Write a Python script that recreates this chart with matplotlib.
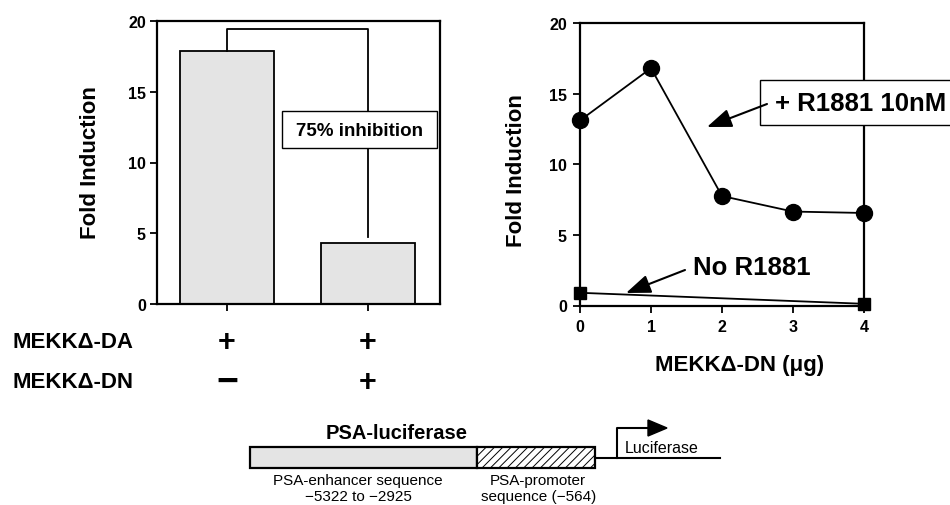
import matplotlib
matplotlib.use('Agg')
import matplotlib.pyplot as plt
from matplotlib.patches import Rectangle, Polygon

plt.rcParams['font.family'] = ['Liberation Sans', 'DejaVu Sans']
plt.rcParams['font.weight'] = 'bold'
plt.rcParams['hatch.linewidth'] = 0.7

# bar panel: MEKK-DA alone vs MEKK-DA + MEKK-DN
bar_pos = [0, 1]
fold_bar = [17.9, 4.3]
da_signs = ['+', '+']
dn_signs = ['\u2212', '+']

# line panel: dose of MEKK-DN (ug)
dn_ug = [0, 1, 2, 3, 4]
with_r1881 = [13.1, 16.8, 7.75, 6.65, 6.55]
dn_ug_none = [0, 4]
no_r1881 = [0.9, 0.12]

yticks = [0, 5, 10, 15, 20]

W, H = 950, 506
fig = plt.figure(figsize=(9.5, 5.06), dpi=100)


def px_axes(x0, y0, x1, y1):
    # axes placed by pixel box (top-left origin)
    return fig.add_axes([x0 / W, 1 - y1 / H, (x1 - x0) / W, (y1 - y0) / H])


def style(ax, ypad):
    for s in ax.spines.values():
        s.set_linewidth(1.6)
    ax.tick_params(direction='out', length=5, width=1.3, labelsize=11.5)
    ax.tick_params(axis='y', pad=ypad)


# left panel
ax1 = px_axes(157, 22, 440, 305)
ax1.bar(bar_pos, fold_bar, width=0.667, color='#e4e4e4', edgecolor='black', linewidth=1.3)
ax1.set_xlim(-0.496, 1.51)
ax1.set_ylim(0, 20)
ax1.set_yticks(yticks)
ax1.set_xticks(bar_pos)
ax1.set_xticklabels([])
style(ax1, 3)
bracket_top = 19.4
ax1.plot([bar_pos[0], bar_pos[0], bar_pos[1], bar_pos[1]],
         [fold_bar[0], bracket_top, bracket_top, fold_bar[1] + 0.4],
         color='black', lw=1.3)

# right panel
ax2 = px_axes(580, 24, 864, 306.5)
ax2.plot(dn_ug, with_r1881, '-', color='black', marker='o', ms=11.5, lw=1.3,
         clip_on=False, zorder=3)
ax2.plot(dn_ug_none, no_r1881, '-', color='black', marker='s', ms=9, lw=1.3,
         clip_on=False, zorder=3)
ax2.set_xlim(0, 4)
ax2.set_ylim(0, 20)
ax2.set_xticks(dn_ug)
ax2.set_yticks(yticks)
style(ax2, 4.5)
ax2.tick_params(axis='x', pad=5)

# overlay in pixel coords for labels, boxes and the construct diagram
ov = fig.add_axes([0, 0, 1, 1])
ov.set_xlim(0, W)
ov.set_ylim(H, 0)
ov.axis('off')
ov.set_zorder(10)

ov.text(90, 163, 'Fold Induction', rotation=90, ha='center', va='center', fontsize=16)
ov.text(517, 171, 'Fold Induction', rotation=90, ha='center', va='center', fontsize=16)
ov.text(740, 365, 'MEKK\u0394-DN (\u03bcg)', ha='center', va='center', fontsize=16)

# 75% inhibition box
ov.add_patch(Rectangle((282, 112), 155, 37, facecolor='white', edgecolor='black', lw=1))
ov.text(360, 131, '75% inhibition', ha='center', va='center', fontsize=13.5)

# R1881 labels
ov.add_patch(Rectangle((760, 81), 200, 45, facecolor='white', edgecolor='black', lw=1,
                       clip_on=False))
ov.text(775, 104, '+ R1881 10nM', ha='left', va='center', fontsize=18.5)
ov.text(693, 268, 'No R1881', ha='left', va='center', fontsize=18.5)
arrow = dict(arrowstyle='-|>,head_length=1.0,head_width=0.38', color='black', lw=1.5,
             mutation_scale=15, shrinkA=0, shrinkB=0)
ov.annotate('', xy=(707, 128), xytext=(767, 105), arrowprops=arrow)
ov.annotate('', xy=(626, 294), xytext=(685, 271), arrowprops=arrow)

# condition table
ov.text(13, 342, 'MEKK\u0394-DA', ha='left', va='center', fontsize=16)
ov.text(13, 383, 'MEKK\u0394-DN', ha='left', va='center', fontsize=16)
for xp, da, dn in zip([227, 368], da_signs, dn_signs):
    ov.text(xp, 343, da, ha='center', va='center', fontsize=22)
    ov.text(xp, 383, dn, ha='center', va='center', fontsize=22 if dn == '+' else 27)

# PSA-luciferase construct
ov.text(397, 434, 'PSA-luciferase', ha='center', va='center', fontsize=14.5)
ov.add_patch(Rectangle((250, 448), 227, 21, facecolor='#e4e4e4', edgecolor='black', lw=1.6))
ov.add_patch(Rectangle((477, 448), 118, 21, facecolor='white', edgecolor='black', lw=1.6,
                       hatch='////'))
ov.plot([595, 720], [459, 459], color='black', lw=1.5)
ov.plot([617, 617, 650], [459, 429, 429], color='black', lw=1.5)
ov.add_patch(Polygon([(648, 421), (667, 429), (648, 437)], closed=True, color='black'))
ov.text(662, 449, 'Luciferase', ha='center', va='center', fontsize=11.5, fontweight='normal')
ov.text(358, 481, 'PSA-enhancer sequence', ha='center', va='center', fontsize=11,
        fontweight='normal')
ov.text(358, 497, '\u22125322 to \u22122925', ha='center', va='center', fontsize=11,
        fontweight='normal')
ov.text(538, 481, 'PSA-promoter', ha='center', va='center', fontsize=11, fontweight='normal')
ov.text(539, 497, 'sequence (\u2212564)', ha='center', va='center', fontsize=11,
        fontweight='normal')

fig.savefig('out.png', dpi=100)
